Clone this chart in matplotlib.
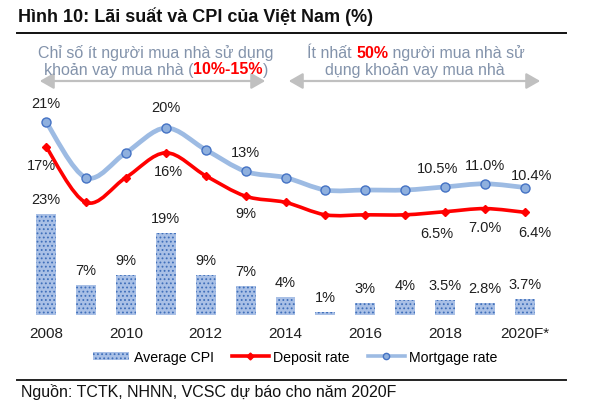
import numpy as np
import matplotlib
matplotlib.use("Agg")
import matplotlib.pyplot as plt
from matplotlib.path import Path
from matplotlib.patches import PathPatch, Patch, FancyArrowPatch
from matplotlib.lines import Line2D
from matplotlib.offsetbox import TextArea, HPacker, AnnotationBbox

plt.rcParams["font.family"] = ["Liberation Sans", "DejaVu Sans"]
plt.rcParams["hatch.linewidth"] = 0.8

# data
years = ["2008", "2009", "2010", "2011", "2012", "2013", "2014",
         "2015", "2016", "2017", "2018", "2019", "2020F*"]
cpi = [23.0, 6.9, 9.2, 18.7, 9.1, 6.6, 4.1, 0.6, 2.7, 3.5, 3.5, 2.8, 3.7]
cpi_labels = ["23%", "7%", "9%", "19%", "9%", "7%", "4%", "1%", "3%", "4%",
              "3.5%", "2.8%", "3.7%"]
deposit = [17, 8, 12, 16, 12.3, 9, 8, 6, 6, 6, 6.5, 7.0, 6.4]
mortgage = [21, 12, 16, 20, 16.5, 13, 12, 10, 10, 10, 10.5, 11.0, 10.4]
deposit_labels = ["17%", "", "", "16%", "", "9%", "", "", "", "", "6.5%", "7.0%", "6.4%"]
mortgage_labels = ["21%", "", "", "20%", "", "13%", "", "", "", "", "10.5%", "11.0%", "10.4%"]

# label offsets in pixels (dx, dy)
mort_off = {0: (0, 19), 3: (0, 21), 5: (0, 19), 10: (-8, 19), 11: (0, 19), 12: (7, 13)}
dep_off = {0: (-5, -18), 3: (3, -18), 5: (0, -17), 10: (-8, -21), 11: (0, -18), 12: (10, -20)}

BAR_FACE = "#a9c0e6"
BAR_DOT = "#3f6fba"
MORT_LINE = "#9dbbe3"
MORT_FACE = "#8fb0de"
MORT_EDGE = "#4472c4"
RED = "#ff0000"
GREY_TXT = "#8393ab"
ARROW = "#c0c0c0"
TXT = "#1f1f1f"


def smooth_path(xs, ys):
    """Catmull-Rom style bezier through the points (like Excel smoothing)."""
    pts = np.column_stack([xs, ys]).astype(float)
    n = len(pts)
    verts = [pts[0]]
    codes = [Path.MOVETO]
    for i in range(n - 1):
        p0 = pts[i - 1] if i > 0 else pts[i]
        p1 = pts[i]
        p2 = pts[i + 1]
        p3 = pts[i + 2] if i + 2 < n else pts[i + 1]
        c1 = p1 + (p2 - p0) / 6.0
        c2 = p2 - (p3 - p1) / 6.0
        verts += [c1, c2, p2]
        codes += [Path.CURVE4] * 3
    return Path(verts, codes)


fig = plt.figure(figsize=(6, 4.1), dpi=100)
W, H = 600.0, 410.0

ax = fig.add_axes([22 / W, 1 - 316 / H, 527 / W, 221 / H])
ax2 = ax.twinx()

x = np.arange(len(years))

# bars
ax.bar(x, cpi, width=0.5, color=BAR_FACE, edgecolor=BAR_DOT, hatch="....",
       linewidth=0, zorder=2)
for xi, v, lab in zip(x, cpi, cpi_labels):
    ax.annotate(lab, (xi, v), xytext=(0, 15 * 0.72), textcoords="offset points",
                ha="center", va="center", fontsize=10.5, color=TXT)

ax.set_xlim(-0.6, 12.6)
ax.set_ylim(0, 221 / 4.37)
ax2.set_ylim(-63 / 6.2, 158 / 6.2)

# lines
ax2.add_patch(PathPatch(smooth_path(x, mortgage), fill=False, edgecolor=MORT_LINE,
                        lw=3.4, capstyle="round", joinstyle="round", zorder=3))
ax2.plot(x, mortgage, linestyle="none", marker="o", markersize=6.5,
         markerfacecolor=MORT_FACE, markeredgecolor=MORT_EDGE, markeredgewidth=1.0, zorder=4)
ax2.add_patch(PathPatch(smooth_path(x, deposit), fill=False, edgecolor=RED,
                        lw=2.6, capstyle="round", joinstyle="round", zorder=3))
ax2.plot(x, deposit, linestyle="none", marker="D", markersize=4.5,
         markerfacecolor=RED, markeredgecolor=RED, zorder=4)

for i, lab in enumerate(mortgage_labels):
    if lab:
        dx, dy = mort_off[i]
        ax2.annotate(lab, (x[i], mortgage[i]), xytext=(dx * 0.72, dy * 0.72),
                     textcoords="offset points", ha="center", va="center",
                     fontsize=10.5, color=TXT)
for i, lab in enumerate(deposit_labels):
    if lab:
        dx, dy = dep_off[i]
        ax2.annotate(lab, (x[i], deposit[i]), xytext=(dx * 0.72, dy * 0.72),
                     textcoords="offset points", ha="center", va="center",
                     fontsize=10.5, color=TXT)

ax.set_xticks(x[::2])
ax.set_xticklabels(years[::2], fontsize=11, color=TXT)
ax.tick_params(axis="x", length=0, pad=8)
ax.set_yticks([])
ax2.set_yticks([])
for a in (ax, ax2):
    for s in a.spines.values():
        s.set_visible(False)

# legend
handles = [
    Patch(facecolor=BAR_FACE, edgecolor=BAR_DOT, hatch="....", linewidth=0),
    Line2D([], [], color=RED, lw=2.6, marker="D", markersize=3.5,
           markerfacecolor=RED, markeredgecolor=RED),
    Line2D([], [], color=MORT_LINE, lw=2.6, marker="o", markersize=4.5,
           markerfacecolor=MORT_FACE, markeredgecolor=MORT_EDGE),
]
fig.legend(handles, ["Average CPI", "Deposit rate", "Mortgage rate"],
           loc="center", bbox_to_anchor=(295 / W, 1 - 358 / H), ncol=3,
           frameon=False, fontsize=10.2, handlelength=2.6, handleheight=0.5,
           handletextpad=0.3, columnspacing=1.3)

# title and rules
fig.text(18 / W, 1 - 17 / H, "Hình 10: Lãi suất và CPI của Việt Nam (%)",
         fontsize=13, fontweight="bold", color="#111111", ha="left", va="center")
fig.add_artist(Line2D([17 / W, 566 / W], [1 - 34 / H] * 2, color="#111111", lw=1.4))
fig.add_artist(Line2D([17 / W, 566 / W], [1 - 381 / H] * 2, color="#222222", lw=1.4))
fig.text(21 / W, 1 - 392 / H, "Nguồn: TCTK, NHNN, VCSC dự báo cho năm 2020F",
         fontsize=11.5, color="#111111", ha="left", va="center")


def rich_line(parts, xc, yc):
    kids = [TextArea(t, textprops=dict(color=c, fontsize=11.5, fontweight=w))
            for t, c, w in parts]
    box = HPacker(children=kids, pad=0, sep=0, align="baseline")
    ab = AnnotationBbox(box, (xc / W, 1 - yc / H), xycoords="figure fraction",
                        frameon=False, box_alignment=(0.5, 0.5), pad=0)
    fig.add_artist(ab)


rich_line([("Chỉ số ít người mua nhà sử dụng", GREY_TXT, "normal")], 156, 53)
rich_line([("khoản vay mua nhà (", GREY_TXT, "normal"),
           ("10%-15%", RED, "bold"),
           (")", GREY_TXT, "normal")], 156, 70)
rich_line([("Ít nhất ", GREY_TXT, "normal"),
           ("50%", RED, "bold"),
           (" người mua nhà sử", GREY_TXT, "normal")], 416, 53)
rich_line([("dụng khoản vay mua nhà", GREY_TXT, "normal")], 415, 70)

for x0, x1 in [(37, 268), (286, 543)]:
    fig.add_artist(FancyArrowPatch((x0 / W, 1 - 82 / H), (x1 / W, 1 - 82 / H),
                                   transform=fig.transFigure,
                                   arrowstyle="<|-|>,head_length=0.7,head_width=0.4",
                                   mutation_scale=12, color=ARROW, lw=1.6))

fig.savefig("out.png", dpi=100)
